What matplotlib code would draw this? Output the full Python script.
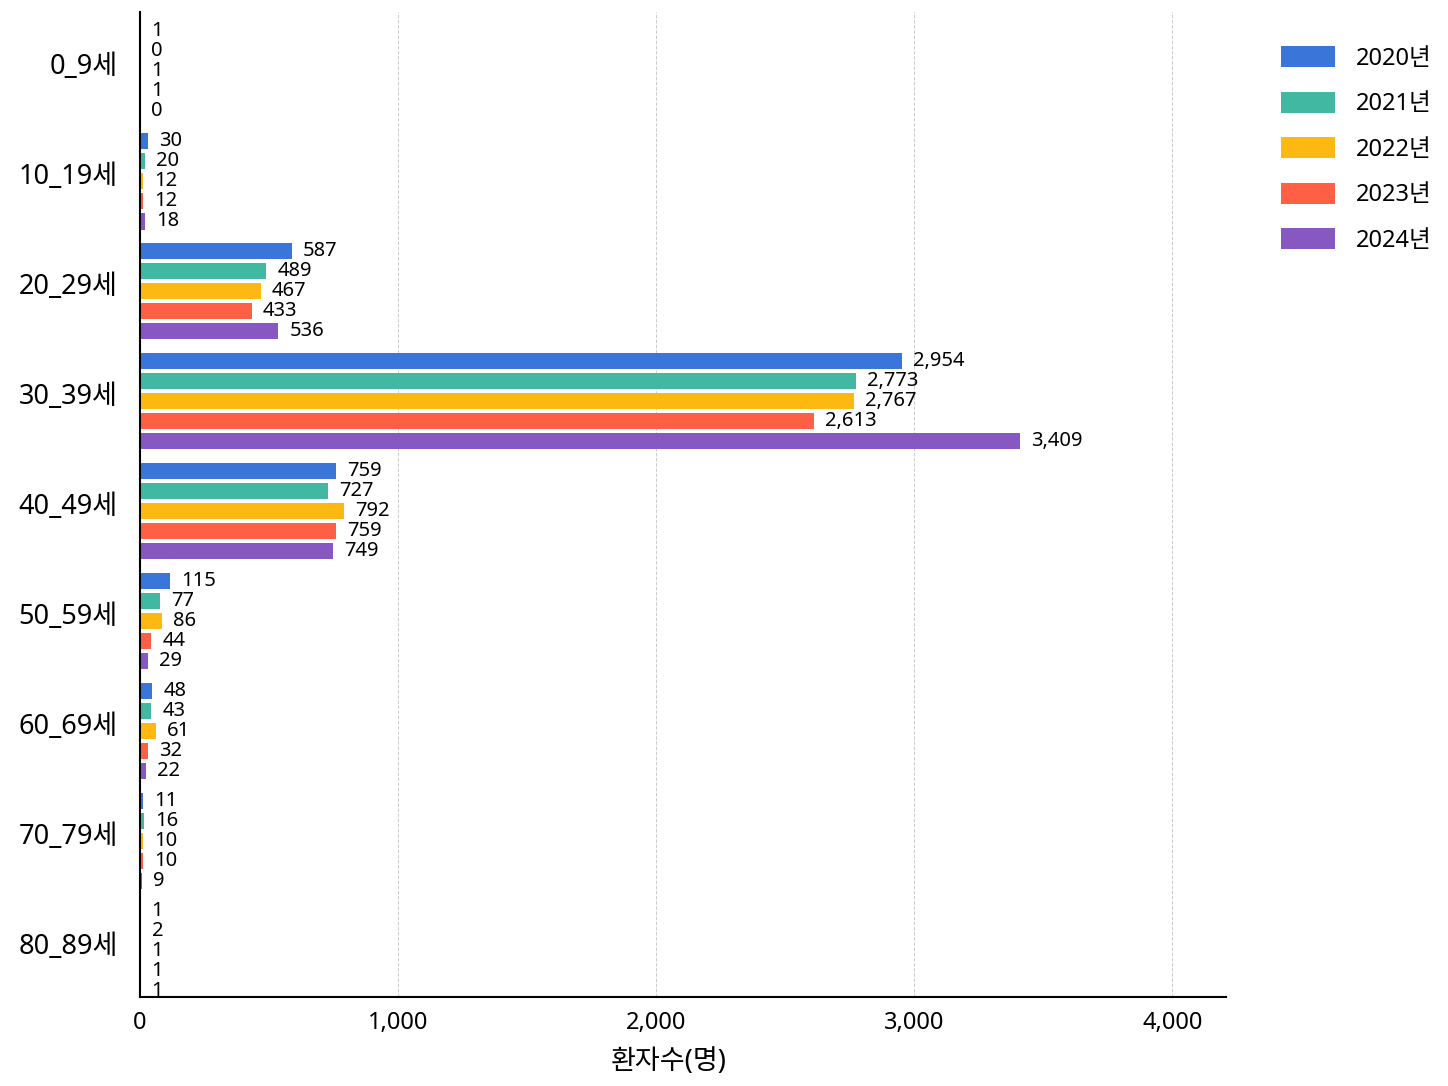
import matplotlib.pyplot as plt
import numpy as np

plt.rcParams['font.family'] = ['Noto Sans', 'Noto Sans CJK KR', 'DejaVu Sans']

age_groups = ['0_9세', '10_19세', '20_29세', '30_39세', '40_49세',
              '50_59세', '60_69세', '70_79세', '80_89세']
years = ['2020년', '2021년', '2022년', '2023년', '2024년']
v2020 = [1, 30, 587, 2954, 759, 115, 48, 11, 1]
v2021 = [0, 20, 489, 2773, 727, 77, 43, 16, 2]
v2022 = [1, 12, 467, 2767, 792, 86, 61, 10, 1]
v2023 = [1, 12, 433, 2613, 759, 44, 32, 10, 1]
v2024 = [0, 18, 536, 3409, 749, 29, 22, 9, 1]
series = [v2020, v2021, v2022, v2023, v2024]
colors = ['#3A75D9', '#41B8A2', '#FDB812', '#FF5F45', '#8757C2']

fig = plt.figure(figsize=(14.48, 10.86), dpi=100)
ax = fig.add_axes([0.0967, 0.082, 0.7503, 0.907])

y = np.arange(len(age_groups))
pitch = 0.182
for i, (vals, c, yr) in enumerate(zip(series, colors, years)):
    pos = y + (i - 2) * pitch
    ax.barh(pos, vals, height=0.15, color=c, label=yr)
    for p, v in zip(pos, vals):
        ax.annotate(f'{v:,}', (v, p), xytext=(8, 0), textcoords='offset points',
                    va='center', ha='left', fontsize=14.5)

# labels sit a little above the group centre in the original
ax.set_yticks(y - 0.07)
ax.set_yticklabels(age_groups, fontsize=19.5)
ax.set_ylim(8.42, -0.54)
ax.set_xlim(0, 4210)
ax.set_xticks([0, 1000, 2000, 3000, 4000])
ax.set_xticklabels(['0', '1,000', '2,000', '3,000', '4,000'], fontsize=17)
ax.tick_params(length=0)
ax.tick_params(axis='x', pad=10)
ax.tick_params(axis='y', pad=16)
ax.set_xlabel('환자수(명)', fontsize=19.5)
ax.xaxis.set_label_coords(0.487, -0.052)
ax.grid(axis='x', linestyle='--', color='#cccccc', linewidth=0.7)
ax.set_axisbelow(True)
for s in ['top', 'right']:
    ax.spines[s].set_visible(False)
for s in ['left', 'bottom']:
    ax.spines[s].set_linewidth(1.5)

fig.legend(loc='upper left', bbox_to_anchor=(0.87, 0.977), fontsize=17,
           frameon=False, handlelength=2.3, handleheight=1.0,
           labelspacing=0.88, handletextpad=0.85)

fig.savefig('out.png', dpi=100)
